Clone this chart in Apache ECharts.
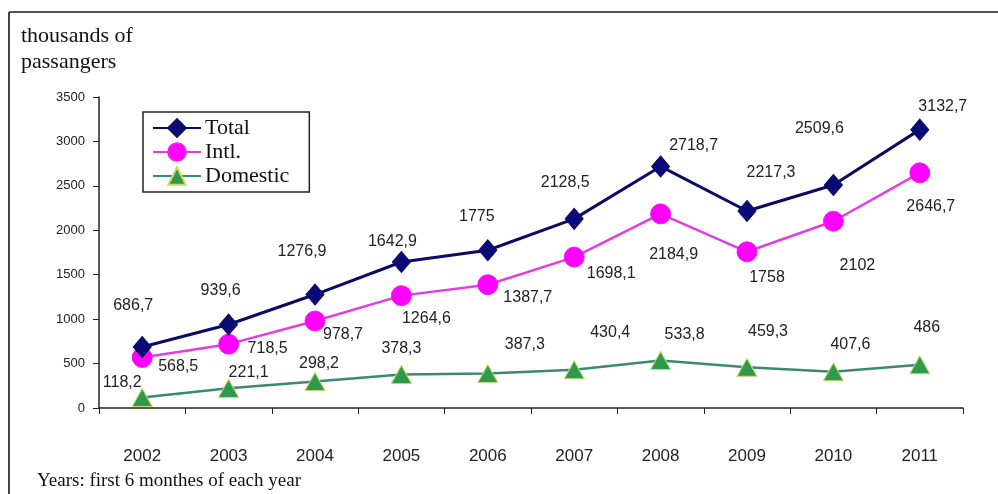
<!DOCTYPE html>
<html>
<head>
<meta charset="utf-8">
<title>Passengers, first half-year</title>
<script src="https://cdn.jsdelivr.net/npm/echarts@6/dist/echarts.min.js"></script>
<style>
  html, body { margin: 0; padding: 0; background: #fff; }
  #chart { width: 998px; height: 494px; }
</style>
</head>
<body>
<div id="chart"></div>
<script>
// Years (first 6 months of each year)
var years = ['2002', '2003', '2004', '2005', '2006', '2007', '2008', '2009', '2010', '2011'];

// Thousands of passengers
var totalValues = [686.7, 939.6, 1276.9, 1642.9, 1775, 2128.5, 2718.7, 2217.3, 2509.6, 3132.7];
var intlValues = [568.5, 718.5, 978.7, 1264.6, 1387.7, 1698.1, 2184.9, 1758, 2102, 2646.7];
var domesticValues = [118.2, 221.1, 298.2, 378.3, 387.3, 430.4, 533.8, 459.3, 407.6, 486];

var yTicks = [0, 500, 1000, 1500, 2000, 2500, 3000, 3500];

// Where each value label sits relative to its point (px)
var totalLabelOffsets = [[-9, -41], [-8, -34], [-13, -43], [-9, -20], [-11, -34], [-9, -36], [33, -21], [24, -38], [-14, -56], [23, -23]];
var intlLabelOffsets = [[36, 9], [39, 4], [28, 14], [25, 23], [40, 13], [37, 16], [13, 41], [20, 26], [24, 44], [11, 34]];
var domesticLabelOffsets = [[-20, -15], [20, -16], [4, -18], [0, -26], [37, -29], [36, -37], [24, -26], [21, -36], [17, -27], [7, -37]];

function fmt(v) { return String(v).replace('.', ','); }

var sans = 'Liberation Sans, Arial, sans-serif';
var serif = 'Liberation Serif, Times New Roman, serif';

function withLabels(values, offsets) {
  return values.map(function (v, i) {
    return {
      value: v,
      label: {
        show: true,
        position: 'inside',
        offset: offsets[i],
        formatter: fmt(v),
        color: '#222',
        fontSize: 16,
        fontFamily: sans
      }
    };
  });
}

var chart = echarts.init(document.getElementById('chart'), null, { renderer: 'canvas' });

chart.setOption({
  animation: false,
  backgroundColor: '#fff',
  grid: { left: 99, top: 97, right: 35, bottom: 86, containLabel: false },
  legend: {
    orient: 'vertical',
    left: 143,
    top: 112,
    padding: [5, 20, 5, 9],
    itemGap: 2,
    itemWidth: 48,
    itemHeight: 22,
    borderColor: '#222',
    borderWidth: 1.5,
    backgroundColor: '#fff',
    textStyle: { fontFamily: serif, fontSize: 22, color: '#111', padding: [0, 0, 0, -1] },
    data: ['Total', 'Intl.', 'Domestic']
  },
  xAxis: {
    type: 'category',
    data: years,
    boundaryGap: true,
    axisLine: { lineStyle: { color: '#222', width: 1.5 } },
    axisTick: { show: true, alignWithLabel: false, length: 6, lineStyle: { color: '#222' } },
    axisLabel: { margin: 40, color: '#222', fontSize: 17, fontFamily: sans },
    splitLine: { show: false }
  },
  yAxis: {
    type: 'value',
    min: yTicks[0],
    max: yTicks[yTicks.length - 1],
    interval: yTicks[1] - yTicks[0],
    axisLine: { show: true, lineStyle: { color: '#222', width: 1.5 } },
    axisTick: { show: true, length: 6, lineStyle: { color: '#222' } },
    axisLabel: {
      margin: 14, color: '#222', fontSize: 13, fontFamily: sans,
      formatter: function (v) { return String(v); }
    },
    splitLine: { show: false }
  },
  series: [
    {
      name: 'Total',
      type: 'line',
      data: withLabels(totalValues, totalLabelOffsets),
      symbol: 'diamond',
      symbolSize: [18, 21],
      lineStyle: { color: '#0b0b66', width: 3 },
      itemStyle: { color: '#0a0a78', borderColor: '#0a0a55', borderWidth: 1 },
      z: 3
    },
    {
      name: 'Intl.',
      type: 'line',
      data: withLabels(intlValues, intlLabelOffsets),
      symbol: 'circle',
      symbolSize: 20,
      lineStyle: { color: '#e23de2', width: 2.5 },
      itemStyle: { color: '#ff00ff', borderColor: '#f020f0', borderWidth: 1 },
      z: 2
    },
    {
      name: 'Domestic',
      type: 'line',
      data: withLabels(domesticValues, domesticLabelOffsets),
      symbol: 'triangle',
      symbolSize: [20, 18],
      lineStyle: { color: '#3a8a72', width: 2.5 },
      itemStyle: { color: '#2f9a4e', borderColor: '#c9d86a', borderWidth: 1 },
      z: 1
    }
  ],
  graphic: [
    // frame
    { type: 'line', shape: { x1: 9, y1: 12, x2: 998, y2: 12 }, style: { stroke: '#555', lineWidth: 2 } },
    { type: 'line', shape: { x1: 9, y1: 12, x2: 9, y2: 494 }, style: { stroke: '#444', lineWidth: 2 } },
    // axis caption
    {
      type: 'text', left: 21, top: 23,
      style: { text: 'thousands of\npassangers', font: '22px ' + serif, fill: '#111', lineHeight: 26 }
    },
    // footnote
    {
      type: 'text', left: 37, top: 472,
      style: { text: 'Years: first 6 monthes of each year', font: '19px ' + serif, fill: '#111' }
    }
  ]
});
</script>
</body>
</html>
